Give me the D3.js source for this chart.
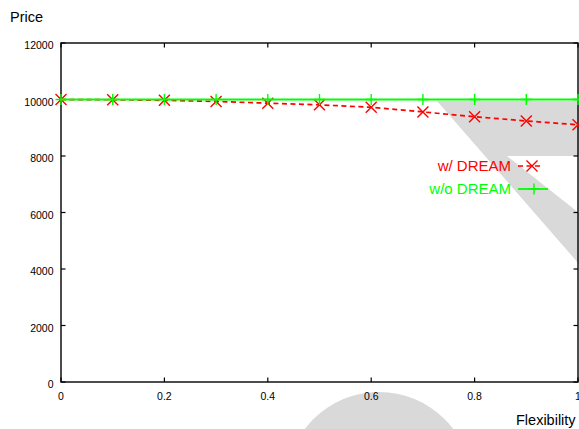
<!DOCTYPE html>
<html>
<head>
<meta charset="utf-8">
<script src="https://cdn.jsdelivr.net/npm/d3@7"></script>
<style>
  html, body { margin: 0; padding: 0; background: #fff; }
  svg { display: block; font-family: "Liberation Sans", Arial, Helvetica, sans-serif; }
</style>
</head>
<body>
<svg id="chart" width="579" height="429"></svg>
<script>
// Flexibility levels on the x axis
const flexibility = [0, 0.1, 0.2, 0.3, 0.4, 0.5, 0.6, 0.7, 0.8, 0.9, 1.0];
// Price with DREAM
const priceWithDream = [10000, 9990, 9970, 9930, 9870, 9810, 9725, 9560, 9390, 9240, 9105];
// Price without DREAM
const priceWithoutDream = [10000, 10000, 10000, 10000, 10000, 10000, 10000, 10000, 10000, 10000, 10000];

const xTicks = [0, 0.2, 0.4, 0.6, 0.8, 1];
const xTickLabels = ["0", "0.2", "0.4", "0.6", "0.8", "1"];
const yTicks = [0, 2000, 4000, 6000, 8000, 10000, 12000];
const yTickLabels = ["0", "2000", "4000", "6000", "8000", "10000", "12000"];

const seriesNames = ["w/ DREAM", "w/o DREAM"];

const svg = d3.select("#chart");
const plotLeft = 61, plotRight = 578, plotTop = 43, plotBottom = 382;

const x = d3.scaleLinear().domain([0, 1]).range([plotLeft, plotRight]);
const y = d3.scaleLinear().domain([0, 12000]).range([plotBottom, plotTop]);

const RED = "#ff0000";
const GREEN = "#00ff00";

// light grey background shapes
const shade = "#d9d9d9";
svg.append("path")
  .attr("fill", shade)
  .attr("d", "M437,101 L579,101 L579,156 L507,156 L579,213 L579,264 Z");
svg.append("circle")
  .attr("fill", shade)
  .attr("cx", 379).attr("cy", 485).attr("r", 93);

// frame
svg.append("rect")
  .attr("x", plotLeft).attr("y", plotTop)
  .attr("width", plotRight - plotLeft).attr("height", plotBottom - plotTop)
  .attr("fill", "none").attr("stroke", "#000").attr("stroke-width", 1.4);

const tickLen = 4.5;
const ticks = svg.append("g").attr("stroke", "#000").attr("stroke-width", 1.2);
xTicks.forEach(t => {
  ticks.append("line").attr("x1", x(t)).attr("x2", x(t)).attr("y1", plotBottom).attr("y2", plotBottom - tickLen);
  ticks.append("line").attr("x1", x(t)).attr("x2", x(t)).attr("y1", plotTop).attr("y2", plotTop + tickLen);
});
yTicks.forEach(t => {
  ticks.append("line").attr("x1", plotLeft).attr("x2", plotLeft + tickLen).attr("y1", y(t)).attr("y2", y(t));
  ticks.append("line").attr("x1", plotRight).attr("x2", plotRight - tickLen).attr("y1", y(t)).attr("y2", y(t));
});

// tick labels
svg.append("g").selectAll("text").data(xTicks).join("text")
  .attr("x", d => x(d)).attr("y", plotBottom + 17.5)
  .attr("text-anchor", "middle").attr("font-size", 10.5).attr("fill", "#000")
  .text((d, i) => xTickLabels[i]);
svg.append("g").selectAll("text").data(yTicks).join("text")
  .attr("x", plotLeft - 7.5).attr("y", d => y(d) + 6)
  .attr("text-anchor", "end").attr("font-size", 10.5).attr("fill", "#000")
  .text((d, i) => yTickLabels[i]);

// axis titles
svg.append("text").attr("x", 10).attr("y", 22).attr("font-size", 14.5).attr("fill", "#000").text("Price");
svg.append("text").attr("x", 516).attr("y", 425).attr("font-size", 14.5).attr("fill", "#000").text("Flexibility");

// marker shapes
function cross(g, cx, cy, color) {
  const s = 5.5;
  g.append("path")
    .attr("d", `M${cx - s},${cy - s}L${cx + s},${cy + s}M${cx - s},${cy + s}L${cx + s},${cy - s}`)
    .attr("stroke", color).attr("stroke-width", 1.4).attr("fill", "none");
}
function plus(g, cx, cy, color) {
  const s = 5.5;
  g.append("path")
    .attr("d", `M${cx - s},${cy}L${cx + s},${cy}M${cx},${cy - s}L${cx},${cy + s}`)
    .attr("stroke", color).attr("stroke-width", 1.4).attr("fill", "none");
}

const line = d3.line().x(d => x(d[0])).y(d => y(d[1]));

// w/ DREAM series
const withData = flexibility.map((f, i) => [f, priceWithDream[i]]);
const gWith = svg.append("g");
gWith.append("path").datum(withData).attr("d", line)
  .attr("fill", "none").attr("stroke", RED).attr("stroke-width", 1.7)
  .attr("stroke-dasharray", "5,3.5");
withData.forEach(d => cross(gWith, x(d[0]), y(d[1]), RED));

// w/o DREAM series
const withoutData = flexibility.map((f, i) => [f, priceWithoutDream[i]]);
const gWithout = svg.append("g");
gWithout.append("path").datum(withoutData).attr("d", line)
  .attr("fill", "none").attr("stroke", GREEN).attr("stroke-width", 1.8);
withoutData.forEach(d => plus(gWithout, x(d[0]), y(d[1]), GREEN));

// legend
const legend = svg.append("g");
const legendRows = [
  { name: seriesNames[0], color: RED, dashed: true, y: 166, marker: cross, mx: 532, x2: 542 },
  { name: seriesNames[1], color: GREEN, dashed: false, y: 189, marker: plus, mx: 534, x2: 548 }
];
legendRows.forEach(r => {
  legend.append("text").attr("x", 511).attr("y", r.y + 5)
    .attr("text-anchor", "end").attr("font-size", 15).attr("fill", r.color).text(r.name);
  legend.append("line").attr("x1", 518).attr("x2", r.x2).attr("y1", r.y).attr("y2", r.y)
    .attr("stroke", r.color).attr("stroke-width", r.dashed ? 1.7 : 1.8)
    .attr("stroke-dasharray", r.dashed ? "5,3.5" : null);
  r.marker(legend, r.mx, r.y, r.color);
});
</script>
</body>
</html>
